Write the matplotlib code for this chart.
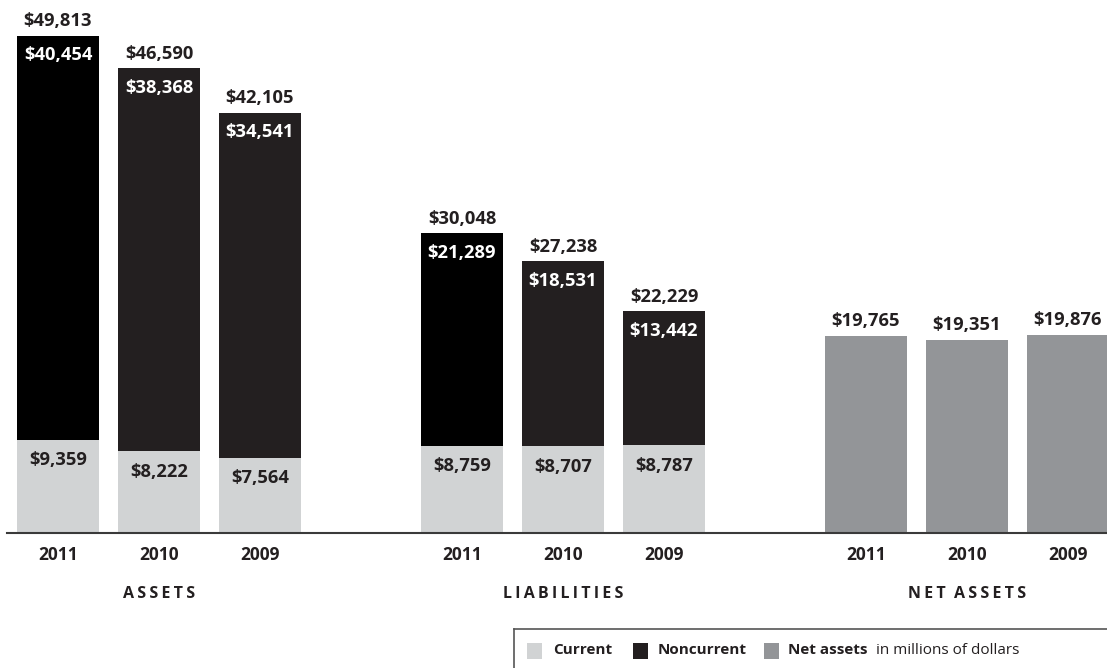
import matplotlib
matplotlib.use('Agg')
import matplotlib.pyplot as plt
from matplotlib.patches import Rectangle
from matplotlib.lines import Line2D

plt.rcParams['font.family'] = ['Open Sans', 'DejaVu Sans']

# balance sheet, in millions of dollars
years = ['2011', '2010', '2009']
groups = ['ASSETS', 'LIABILITIES', 'NET ASSETS']
assets_current = [9359, 8222, 7564]
assets_noncurrent = [40454, 38368, 34541]
assets_total = [49813, 46590, 42105]
liab_current = [8759, 8707, 8787]
liab_noncurrent = [21289, 18531, 13442]
liab_total = [30048, 27238, 22229]
net_assets = [19765, 19351, 19876]

C_CUR = '#d1d3d4'
C_NON = '#231f20'
C_NON_FIRST = '#000000'
C_NET = '#939598'
TXT = '#231f20'
FS = 13.2

W, H = 1107, 668
fig = plt.figure(figsize=(W / 100, H / 100), dpi=100)
ax = fig.add_axes([0, 0, 1, 1])
# x in bar slots (101 px each), y in dollars (baseline at 533 px)
px_per_val = 497 / 49813
ax.set_xlim(-58 / 101, (W - 58) / 101)
ax.set_ylim(-(H - 533) / px_per_val, 533 / px_per_val)
ax.axis('off')

bw = 0.81
pos_assets = [0, 1, 2]
pos_liab = [4, 5, 6]
pos_net = [8, 9, 10]

def stacked(pos, cur, non, tot):
    for i, x in enumerate(pos):
        nc = C_NON_FIRST if i == 0 else C_NON
        ax.bar(x, cur[i], width=bw, color=C_CUR, linewidth=0)
        ax.bar(x, non[i], bottom=cur[i], width=bw, color=nc, linewidth=0)
        ax.annotate(f'${tot[i]:,}', (x, tot[i]), xytext=(0, 10.5), textcoords='offset points',
                    ha='center', va='center', fontsize=FS, fontweight='bold', color=TXT)
        ax.annotate(f'${non[i]:,}', (x, tot[i]), xytext=(0, -14), textcoords='offset points',
                    ha='center', va='center', fontsize=FS, fontweight='bold', color='white')
        ax.annotate(f'${cur[i]:,}', (x, cur[i]), xytext=(0, -15), textcoords='offset points',
                    ha='center', va='center', fontsize=FS, fontweight='bold', color=TXT)

stacked(pos_assets, assets_current, assets_noncurrent, assets_total)
stacked(pos_liab, liab_current, liab_noncurrent, liab_total)

for i, x in enumerate(pos_net):
    ax.bar(x, net_assets[i], width=bw, color=C_NET, linewidth=0)
    ax.annotate(f'${net_assets[i]:,}', (x, net_assets[i]), xytext=(0, 10.5), textcoords='offset points',
                ha='center', va='center', fontsize=FS, fontweight='bold', color=TXT)

# baseline
ax.axhline(0, xmin=7 / W, xmax=1, color='#3a3a3a', linewidth=1.5)

# year and group labels
y_year = -(555 - 533) / px_per_val
y_group = -(594 - 533) / px_per_val
for pos, g in zip([pos_assets, pos_liab, pos_net], groups):
    for x, yr in zip(pos, years):
        ax.text(x, y_year, yr, ha='center', va='center', fontsize=12.5,
                fontweight='bold', color=TXT)
    spaced = '\u2009'.join(g).replace('\u2009 \u2009', '  ')
    ax.text(pos[1], y_group, spaced, ha='center', va='center', fontsize=11.5,
            fontweight='bold', color=TXT)

# legend strip
fig.add_artist(Line2D([514 / W, 1], [1 - 629 / H] * 2, color='#555555', linewidth=1.2))
fig.add_artist(Line2D([514 / W] * 2, [0, 1 - 629 / H], color='#555555', linewidth=1.2))
y_leg = 1 - 650 / H
items = [(527, C_CUR, 553, 'Current'), (633, C_NON, 658, 'Noncurrent'),
         (764, C_NET, 788, 'Net assets')]
for sx, col, tx, lab in items:
    fig.add_artist(Rectangle((sx / W, 1 - 659 / H), 15 / W, 16 / H, color=col,
                             transform=fig.transFigure, linewidth=0))
    fig.text(tx / W, y_leg, lab, ha='left', va='center', fontsize=11,
             fontweight='bold', color=TXT)
fig.text(876 / W, y_leg, 'in millions of dollars', ha='left', va='center',
         fontsize=11, color=TXT)

fig.savefig('out.png', dpi=100)
